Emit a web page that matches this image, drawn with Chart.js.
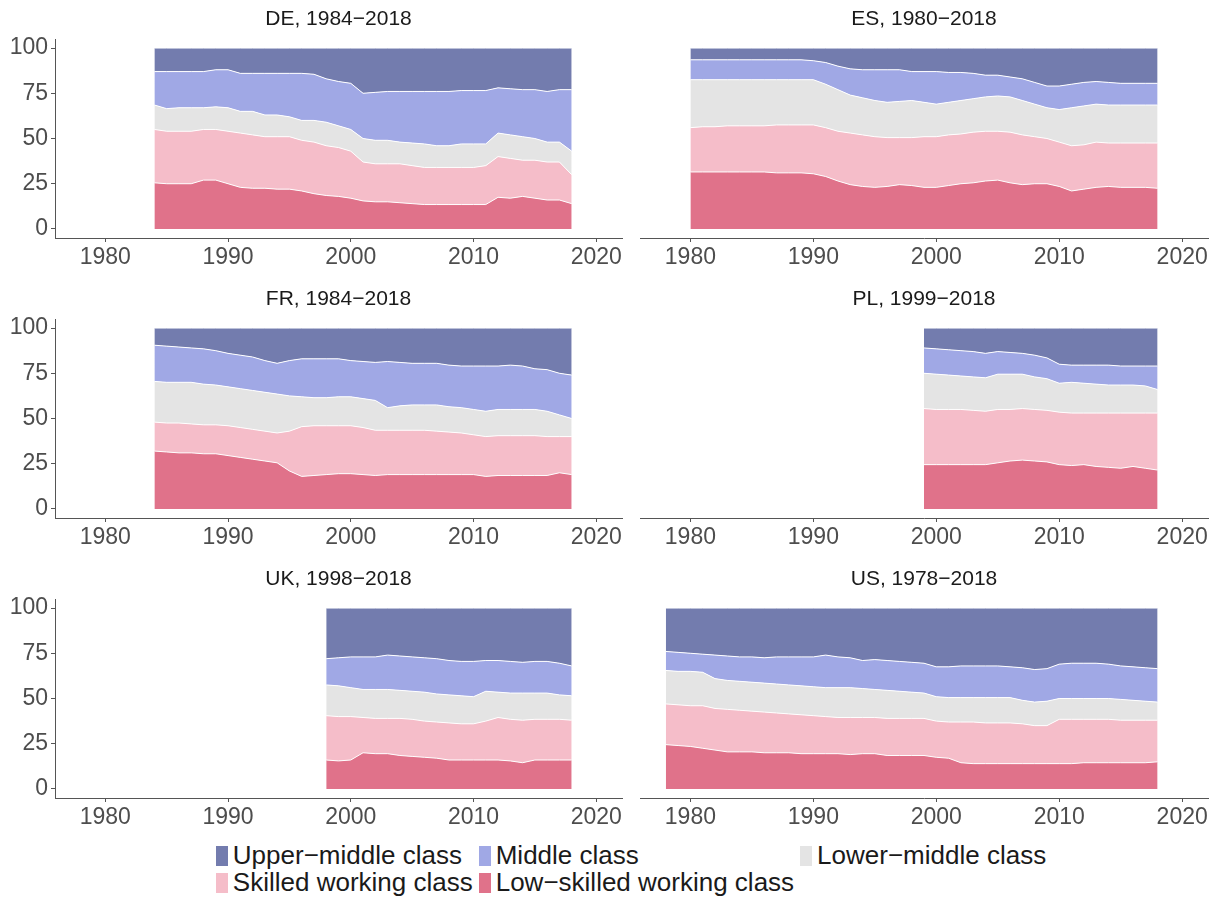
<!DOCTYPE html>
<html>
<head>
<meta charset="utf-8">
<script src="https://cdn.jsdelivr.net/npm/chart.js@4.4.1/dist/chart.umd.min.js"></script>
<style>
  html, body { margin: 0; padding: 0; background: #ffffff; }
  body { width: 1212px; height: 900px; position: relative; overflow: hidden;
         font-family: "Liberation Sans", Arial, Helvetica, sans-serif; }
  .panel { position: absolute; }
  #legend { position: absolute; top: 842px; left: 0; width: 1262px;
            display: flex; justify-content: center; }
  #legend .grid { display: grid; grid-template-columns: auto auto auto;
                  column-gap: 6px; row-gap: 0px; }
  .item { display: flex; align-items: center; height: 27px; }
  .key { width: 12px; height: 20px; margin-right: 5px; flex: none; }
  .label { font-size: 26px; color: #1a1a1a; white-space: nowrap; line-height: 27px; }
</style>
</head>
<body>
<div id="legend"><div class="grid"></div></div>
<script>
// Class shares (%) per country and year, stacked from the bottom band upwards.
const classNames = ['Low\u2212skilled working class', 'Skilled working class', 'Lower\u2212middle class', 'Middle class', 'Upper\u2212middle class'];

const xTicks = [1980, 1990, 2000, 2010, 2020];
const yTicks = [0, 25, 50, 75, 100];

// Germany
const deYears = [1984,1985,1986,1987,1988,1989,1990,1991,1992,1993,1994,1995,1996,1997,1998,1999,2000,2001,2002,2003,2004,2005,2006,2007,2008,2009,2010,2011,2012,2013,2014,2015,2016,2017,2018];
const deLow = [25.5,25,25,25,27,27,25,23,22.5,22.5, 22,22,21,19.5,18.5,18,17,15.5,15,15, 14.5,14,13.5,13.5,13.5,13.5,13.5,13.5,17.5,17, 18,17,16,16,14];
const deSkilled = [29.5,29,29,29,28,28,29,30,29.5,28.5, 29,29,28,28.5,27.5,27,26,21.5,21,21, 21.5,21,20.5,20.5,20.5,20.5,20.5,21.5,22.5,22, 20,21,21,21,16];
const deLowerMid = [13.5,12.5,13,13,12,12.5,13,12,13,12, 12,11,11,12,13,12,12,13,13,13, 12,12.5,13,12,12,13,13,12,13,13, 13,12,11,11,13];
const deMiddle = [18.5,20.5,20,20,20,20.5,21,21,21,23, 23,24,26,25.5,24,24.5,25.5,25,26.5,27, 28,28.5,29,30,30,29.5,29.5,29.5,25,25.5, 26,27,28,29,34];
const deUpper = [13,13,13,13,13,12,12,14,14,14, 14,14,14,14.5,17,18.5,19.5,25,24.5,24, 24,24,24,24,24,23.5,23.5,23.5,22,22.5, 23,23,24,23,23];

// Spain
const esYears = [1980,1981,1982,1983,1984,1985,1986,1987,1988,1989,1990,1991,1992,1993,1994,1995,1996,1997,1998,1999,2000,2001,2002,2003,2004,2005,2006,2007,2008,2009,2010,2011,2012,2013,2014,2015,2016,2017,2018];
const esLow = [31.5,31.5,31.5,31.5,31.5,31.5,31.5,31,31,31, 30.5,29,26.5,24.5,23.5,23,23.5,24.5,24,23, 23,24,25,25.5,26.5,27,25.5,24.5,25,25, 23.5,21,22,23,23.5,23,23,23,22.5];
const esSkilled = [24.5,25,25,25.5,25.5,25.5,25.5,26.5,26.5,26.5, 27,27,27.5,28.5,28.5,28,27,26,26.5,28, 28,28,27.5,28,27.5,27,28,27.5,26,25, 24.5,25,24.5,25,24,24.5,24.5,24.5,25];
const esLowerMid = [26.5,26,26,25.5,25.5,25.5,25.5,25,25,25, 25,24,23,21,20.5,20,19.5,20,20.5,19, 18,18,18.5,18.5,19,19.5,19.5,19,18,17, 18,21,21.5,21,21,21,21,21,21];
const esMiddle = [11,11,11,11,11,11,11,11,11,11, 10.5,12,13,14.5,15.5,17,18,17.5,16,17, 18,16.5,15.5,14,12,11.5,11,12,12,12, 13,13,13,12.5,12.5,12,12,12,12];
const esUpper = [6.5,6.5,6.5,6.5,6.5,6.5,6.5,6.5,6.5,6.5, 7,8,10,11.5,12,12,12,12,13,13, 13,13.5,13.5,14,15,15,16,17,19,21, 21,20,19,18.5,19,19.5,19.5,19.5,19.5];

// France
const frYears = deYears;
const frLow = [32,31.5,31,31,30.5,30.5,29.5,28.5,27.5,26.5, 25.5,21,18,18.5,19,19.5,19.5,19,18.5,19, 19,19,19,19,19,19,19,18,18.5,18.5, 18.5,18.5,18.5,20,19];
const frSkilled = [16,16,16.5,16,16,16,16.5,16.5,16.5,16.5, 16.5,22,27.5,27.5,27,26.5,26.5,26,25,24.5, 24.5,24.5,24.5,24,23.5,23,22,22,22,22, 22,22,21.5,20,21];
const frLowerMid = [22.5,22.5,22.5,23,22.5,22,21.5,21.5,21.5,21.5, 21.5,19.5,16.5,15.5,15.5,16,16,16,16.5,12.5, 13.5,14,14,14.5,14,14,14,14,14.5,14.5, 14.5,14.5,14,12,10];
const frMiddle = [20,20,19.5,19,19.5,19,18.5,18.5,18.5,17.5, 17,19.5,21,21.5,21.5,21,20,20.5,21,25.5, 24,23,23,23,23,23,24,25,24,24.5, 24,22.5,23,23,24];
const frUpper = [9.5,10,10.5,11,11.5,12.5,14,15,16,18, 19.5,18,17,17,17,17,18,18.5,19,18.5, 19,19.5,19.5,19.5,20.5,21,21,21,21,20.5, 21,22.5,23,25,26];

// Poland
const plYears = [1999,2000,2001,2002,2003,2004,2005,2006,2007,2008,2009,2010,2011,2012,2013,2014,2015,2016,2017,2018];
const plLow = [24.5,24.5,24.5,24.5,24.5,24.5,25.5,26.5,27,26.5,26,24.5,24,24.5,23.5,23,22.5,23.5,22.5,21.5];
const plSkilled = [31,30.5,30.5,30.5,30,29.5,29.5,28.5,28.5,28.5,28.5,29,29,28.5,29.5,30,30.5,29.5,30.5,31.5];
const plLowerMid = [19.5,19.5,19,18.5,18.5,18.5,19.5,19.5,19,18,17.5,16,17,16.5,16,15.5,15.5,15.5,15,13];
const plMiddle = [14,14,14,14,14,13.5,12.5,12,11.5,12,11.5,10.5,9.5,10,10.5,11,10.5,10.5,11,13];
const plUpper = [11,11.5,12,12.5,13,14,13,13.5,14,15,16.5,20,20.5,20.5,20.5,20.5,21,21,21,21];

// United Kingdom
const ukYears = [1998,1999,2000,2001,2002,2003,2004,2005,2006,2007,2008,2009,2010,2011,2012,2013,2014,2015,2016,2017,2018];
const ukLow = [16,15.5,16,20,19.5,19.5,18.5,18,17.5,17,16,16,16,16,16,15.5,14.5,16,16,16,16];
const ukSkilled = [24.5,24.5,24,19.5,19.5,19.5,20.5,20.5,20,20,20.5,20,20,21.5,23.5,23,23.5,22.5,22.5,22.5,22];
const ukLowerMid = [17,17,16,15.5,16,16,15.5,15.5,16,15.5,15.5,15.5,15,16.5,14,14.5,15,14.5,14.5,13.5,13.5];
const ukMiddle = [14.5,15.5,17,18,18,19,19,19,19,19.5,19,19,19.5,17,17.5,17.5,17,17.5,17.5,17.5,16.5];
const ukUpper = [28,27.5,27,27,27,26,26.5,27,27.5,28,29,29.5,29.5,29,29,29.5,30,29.5,29.5,30.5,32];

// United States
const usYears = [1978,1979,1980,1981,1982,1983,1984,1985,1986,1987,1988,1989,1990,1991,1992,1993,1994,1995,1996,1997,1998,1999,2000,2001,2002,2003,2004,2005,2006,2007,2008,2009,2010,2011,2012,2013,2014,2015,2016,2017,2018];
const usLow = [24.5,24,23.5,22.5,21.5,20.5,20.5,20.5,20,20, 20,19.5,19.5,19.5,19.5,19,19.5,19.5,18.5,18.5, 18.5,18.5,17.5,17,14.5,14,14,14,14,14, 14,14,14,14,14.5,14.5,14.5,14.5,14.5,14.5,15];
const usSkilled = [22.5,22.5,22.5,23.5,23,23.5,23,22.5,22.5,22, 21.5,21.5,21,20.5,20,20.5,20,20,20.5,20.5, 20.5,20.5,20,20,22.5,23,22.5,22.5,22.5,22, 21,21,24.5,24.5,24,24,24,23.5,23.5,23.5,23];
const usLowerMid = [18.5,18.5,19,18.5,16.5,16,16,16,16,16, 16,16,16,16,16.5,16.5,16,15.5,15.5,15, 14.5,14,13.5,13.5,13.5,13.5,14,14,14,13, 13,13.5,11.5,11.5,11.5,11.5,11.5,11.5,11,10.5,10];
const usMiddle = [10.5,10.5,10,10,13,13.5,13.5,14,14,15, 15.5,16,16.5,18,17,16.5,15.5,16.5,16.5,16.5, 16.5,16.5,16.5,17,17.5,17.5,17.5,17.5,17,18, 18,18,19,19.5,19.5,19.5,19,18.5,18.5,18.5,18.5];
const usUpper = [24,24.5,25,25.5,26,26.5,27,27,27.5,27, 27,27,27,26,27,27.5,29,28.5,29,29.5, 30,30.5,32.5,32.5,32,32,32,32,32.5,33, 34,33.5,31,30.5,30.5,30.5,31,32,32.5,33,33.5];

// ---- styling and layout ----
const bandColors = ['#e0728a', '#f5bdc9', '#e4e4e4', '#a0a8e5', '#737cae'];
const FONT = '"Liberation Sans", Arial, Helvetica, sans-serif';
const AXIS_COLOR = '#555555';
const TICK_COLOR = '#4d4d4d';

const panels = [
  { title: 'DE, 1984\u22122018', years: deYears, series: [deLow, deSkilled, deLowerMid, deMiddle, deUpper], col: 0, row: 0 },
  { title: 'ES, 1980\u22122018', years: esYears, series: [esLow, esSkilled, esLowerMid, esMiddle, esUpper], col: 1, row: 0 },
  { title: 'FR, 1984\u22122018', years: frYears, series: [frLow, frSkilled, frLowerMid, frMiddle, frUpper], col: 0, row: 1 },
  { title: 'PL, 1999\u22122018', years: plYears, series: [plLow, plSkilled, plLowerMid, plMiddle, plUpper], col: 1, row: 1 },
  { title: 'UK, 1998\u22122018', years: ukYears, series: [ukLow, ukSkilled, ukLowerMid, ukMiddle, ukUpper], col: 0, row: 2 },
  { title: 'US, 1978\u22122018', years: usYears, series: [usLow, usSkilled, usLowerMid, usMiddle, usUpper], col: 1, row: 2 }
];

Chart.defaults.font.family = FONT;

// Panel title centred over the plotting area
const panelTitle = {
  id: 'panelTitle',
  afterDraw(chart, args, opts) {
    const { ctx, chartArea } = chart;
    ctx.save();
    ctx.font = '21px ' + FONT;
    ctx.fillStyle = '#1a1a1a';
    ctx.textAlign = 'center';
    ctx.textBaseline = 'middle';
    ctx.fillText(opts.text, (chartArea.left + chartArea.right) / 2, opts.y);
    ctx.restore();
  }
};

const ROW_H = 280;
const colGeom = [
  { left: 0,   width: 630, padLeft: 0,  padRight: 8, showY: true },
  { left: 630, width: 582, padLeft: 10, padRight: 4, showY: false }
];

panels.forEach(p => {
  const g = colGeom[p.col];
  const canvas = document.createElement('canvas');
  canvas.className = 'panel';
  canvas.width = g.width;
  canvas.height = ROW_H;
  canvas.style.left = g.left + 'px';
  canvas.style.top = (p.row * ROW_H) + 'px';
  canvas.style.width = g.width + 'px';
  canvas.style.height = ROW_H + 'px';
  document.body.appendChild(canvas);

  const datasets = p.series.map((vals, i) => ({
    label: classNames[i],
    data: p.years.map((yr, k) => ({ x: yr, y: vals[k] })),
    backgroundColor: bandColors[i],
    borderColor: '#ffffff',
    borderWidth: 1,
    pointRadius: 0,
    tension: 0,
    fill: i === 0 ? 'origin' : '-1'
  }));

  new Chart(canvas, {
    type: 'line',
    data: { datasets },
    plugins: [panelTitle],
    options: {
      responsive: false,
      animation: false,
      devicePixelRatio: 1,
      layout: { padding: { top: 39, left: g.padLeft, right: g.padRight, bottom: 0 } },
      plugins: {
        legend: { display: false },
        tooltip: { enabled: false },
        filler: { drawTime: 'beforeDatasetsDraw' },
        panelTitle: { text: p.title, y: 19 }
      },
      scales: {
        x: {
          type: 'linear',
          min: 1975.9,
          max: 2022.1,
          afterBuildTicks: s => { s.ticks = xTicks.map(v => ({ value: v })); },
          afterFit: s => { s.height = 42; },
          ticks: { color: TICK_COLOR, font: { size: 23 }, padding: 2, maxRotation: 0, callback: v => String(v) },
          grid: { display: true, drawOnChartArea: false, drawTicks: true, tickLength: 4, color: AXIS_COLOR, lineWidth: 1 },
          border: { display: true, color: AXIS_COLOR, width: 1 }
        },
        y: {
          display: g.showY,
          stacked: true,
          min: -5,
          max: 105,
          afterBuildTicks: s => { s.ticks = yTicks.map(v => ({ value: v })); },
          afterFit: s => { s.width = g.showY ? 55 : 0; },
          ticks: { color: TICK_COLOR, font: { size: 23 }, padding: 3, callback: v => String(v) },
          grid: { display: true, drawOnChartArea: false, drawTicks: true, tickLength: 4, color: AXIS_COLOR, lineWidth: 1 },
          border: { display: true, color: AXIS_COLOR, width: 1 }
        }
      }
    }
  });
});

// Legend below the panels: three columns, filled row by row
const legendOrder = [4, 3, 2, 1, 0];
const grid = document.querySelector('#legend .grid');
legendOrder.forEach(idx => {
  const item = document.createElement('div');
  item.className = 'item';
  const key = document.createElement('span');
  key.className = 'key';
  key.style.background = bandColors[idx];
  const label = document.createElement('span');
  label.className = 'label';
  label.textContent = classNames[idx];
  item.appendChild(key);
  item.appendChild(label);
  grid.appendChild(item);
});
</script>
</body>
</html>
